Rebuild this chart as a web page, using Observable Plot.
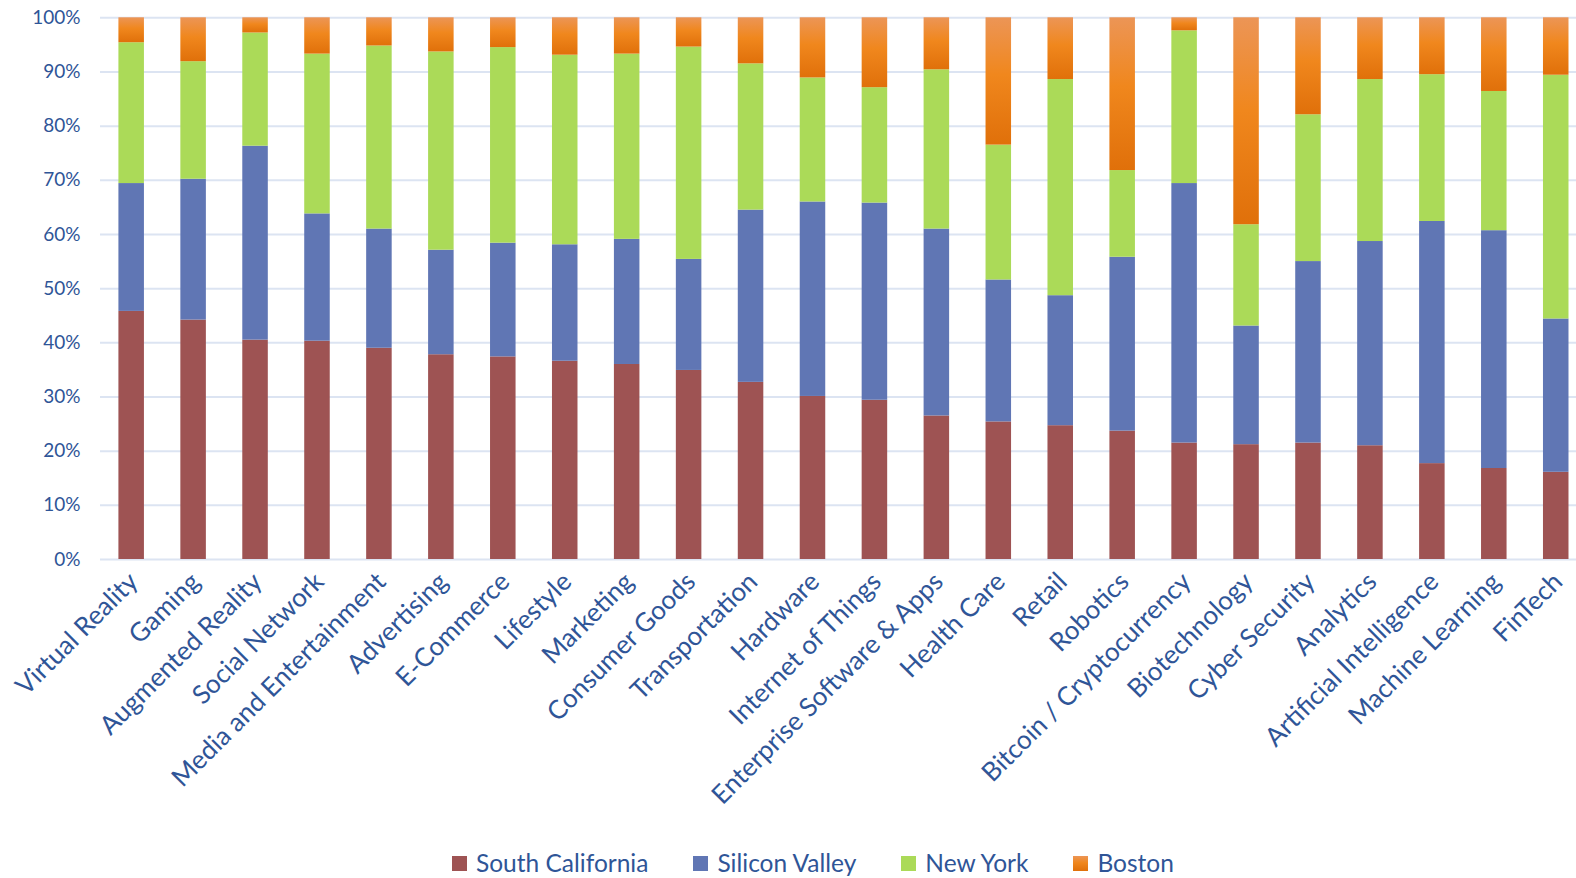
<!DOCTYPE html>
<html>
<head>
<meta charset="utf-8">
<script src="https://cdn.jsdelivr.net/npm/d3@7"></script>
<script src="https://cdn.jsdelivr.net/npm/@observablehq/plot@0.6"></script>
<style>
  html, body { margin: 0; padding: 0; background: #fff; }
  #wrap { position: relative; width: 1576px; height: 878px; overflow: hidden; font-family: Lato, "Open Sans", sans-serif; }
  #legend { position: absolute; left: 452px; top: 848px; height: 29px; line-height: 29px; display: flex; align-items: center; font-size: 24.5px; color: #2F5597; white-space: nowrap; }
  .item { display: flex; align-items: center; margin-right: 45px; }
  .sw { width: 15px; height: 15px; margin-right: 9px; margin-top: 2px; }
</style>
</head>
<body>
<div id="wrap">
  <div id="chart"></div>
  <div id="legend"></div>
</div>
<script>
const categories = ["Virtual Reality","Gaming","Augmented Reality","Social Network","Media and Entertainment","Advertising","E-Commerce","Lifestyle","Marketing","Consumer Goods","Transportation","Hardware","Internet of Things","Enterprise Software & Apps","Health Care","Retail","Robotics","Bitcoin / Cryptocurrency","Biotechnology","Cyber Security","Analytics","Artificial Intelligence","Machine Learning","FinTech"];
const series = ["South California","Silicon Valley","New York","Boston"];
const southCalifornia = [45.8,44.2,40.5,40.3,39.0,37.8,37.4,36.6,36.0,34.9,32.7,30.1,29.4,26.5,25.4,24.7,23.7,21.5,21.2,21.5,21.0,17.7,16.8,16.1];
const siliconValley   = [23.6,26.0,35.8,23.5,22.0,19.3,21.0,21.5,23.1,20.5,31.8,35.9,36.4,34.5,26.2,24.0,32.1,47.9,21.9,33.5,37.7,44.7,43.9,28.3];
const newYork         = [26.0,21.7,20.9,29.5,33.8,36.6,36.1,35.0,34.2,39.2,27.0,22.9,21.3,29.4,24.9,39.9,16.0,28.2,18.7,27.1,29.9,27.1,25.7,45.0];
const boston          = [4.6,8.1,2.8,6.7,5.2,6.3,5.5,6.9,6.7,5.4,8.5,11.1,12.9,9.6,23.5,11.4,28.2,2.4,38.2,17.9,11.4,10.5,13.6,10.6];
const yTicks = [0,10,20,30,40,50,60,70,80,90,100];
const colors = ["#9E5353","#6076B4","#ABDA58","url(#bostonGrad)"];

const valuesBySeries = [southCalifornia, siliconValley, newYork, boston];
const rows = [];
series.forEach((s, si) => categories.forEach((c, ci) => rows.push({category: c, series: s, value: valuesBySeries[si][ci]})));

const textColor = "#2F5597";
const W = 1576, H = 845, mTop = 17.3, mBottom = H - 559, mLeft = 100;

const chart = Plot.plot({
  width: W,
  height: H,
  marginTop: mTop,
  marginBottom: mBottom,
  marginLeft: mLeft,
  marginRight: 0,
  style: {fontFamily: "Lato, 'Open Sans', sans-serif", background: "#fff"},
  x: {type: "band", domain: categories, range: [100.2, 1586.7], paddingInner: 0.588, paddingOuter: 0.294, round: false, axis: null},
  y: {domain: [0, 100], axis: null},
  color: {domain: series, range: colors},
  marks: [
    Plot.ruleY(yTicks, {stroke: "#DCE4F2", strokeWidth: 2}),
    Plot.barY(rows, {x: "category", y: "value", fill: "series"}),
    Plot.text(yTicks, {y: d => d, text: d => d + "%", frameAnchor: "left", textAnchor: "end", dx: -20, fontSize: 19, fill: textColor}),
    Plot.text(categories, {x: d => d, text: d => d, frameAnchor: "bottom", rotate: -45, textAnchor: "end", lineAnchor: "middle", dx: 2, dy: 18, fontSize: 26, fill: textColor})
  ]
});

// gradient for Boston
const ns = "http://www.w3.org/2000/svg";
const defs = document.createElementNS(ns, "defs");
defs.innerHTML = '<linearGradient id="bostonGrad" x1="0" y1="0" x2="0" y2="1">' +
  '<stop offset="0" stop-color="#EC9556"/>' +
  '<stop offset="0.45" stop-color="#F0871D"/>' +
  '<stop offset="1" stop-color="#E0700A"/></linearGradient>';
chart.insertBefore(defs, chart.firstChild);
document.getElementById("chart").appendChild(chart);

// legend
const legend = document.getElementById("legend");
const swFills = ["#9E5353","#6076B4","#ABDA58","linear-gradient(#EC9556, #F0871D 45%, #E0700A)"];
series.forEach((s, i) => {
  const item = document.createElement("div");
  item.className = "item";
  const sw = document.createElement("div");
  sw.className = "sw";
  sw.style.background = swFills[i];
  const t = document.createElement("span");
  t.textContent = s;
  item.appendChild(sw); item.appendChild(t);
  legend.appendChild(item);
});
</script>
</body>
</html>
